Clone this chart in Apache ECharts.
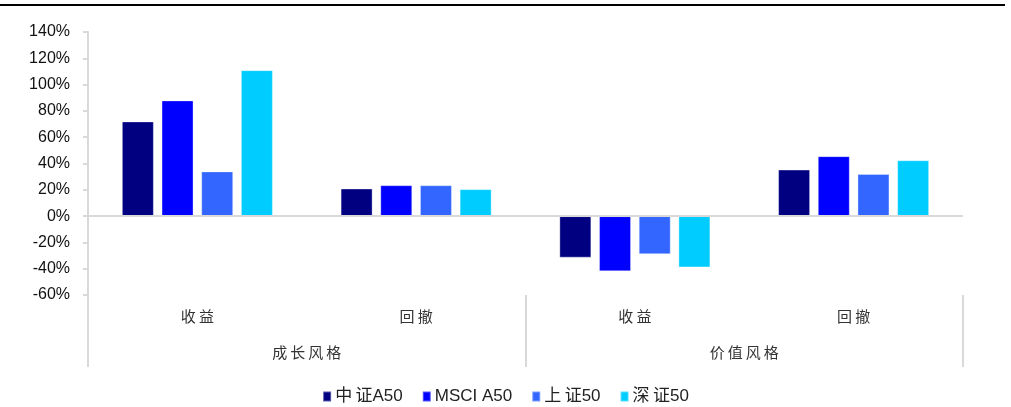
<!DOCTYPE html>
<html>
<head>
<meta charset="utf-8">
<script src="https://cdn.jsdelivr.net/npm/echarts@6/dist/echarts.min.js"></script>
<style>
  html, body { margin: 0; padding: 0; background: #fff; }
  #chart { width: 1011px; height: 407px; }
</style>
</head>
<body>
<div id="chart"></div>
<script>
// Sub-categories (inner level) and style groups (outer level)
const categories = ['收益', '回撤', '收益', '回撤'];
const groups = ['成长风格', '价值风格'];

// Index series, values in %
const seriesNames = ['中证A50', 'MSCI A50', '上证50', '深证50'];
const csiA50   = [72, 21, -31.6, 35.4];
const msciA50  = [88, 23.5, -42, 45.6];
const sse50    = [34, 23.5, -29, 32.1];
const szse50   = [111, 20.5, -39, 42.5];

const yTicks = { min: -60, max: 140, step: 20 };

const colors = ['#000080', '#0000FF', '#3366FF', '#00CCFF'];
const values = [csiA50, msciA50, sse50, szse50];

const latin = '"Liberation Sans", Arial, "Noto Sans CJK SC", sans-serif';
const cjk = '"Noto Sans CJK SC", "Liberation Sans", sans-serif';

// widen the spacing between CJK characters
function spaceCjk(text) {
  return text.replace(/([\u4e00-\u9fff])(?=[\u4e00-\u9fff])/g, '$1\u2009');
}

const chart = echarts.init(document.getElementById('chart'));

const series = seriesNames.map((name, i) => {
  const s = {
    name: name,
    type: 'bar',
    xAxisIndex: 0,
    data: values[i],
    barWidth: 32,
    barGap: '24%',
    itemStyle: { color: colors[i], borderColor: 'rgba(255,255,255,0.35)', borderWidth: 1 }
  };
  if (i === 0) {
    // zero baseline across the plot
    s.markLine = {
      silent: true,
      symbol: ['none', 'none'],
      label: { show: false },
      lineStyle: { color: '#d9d9d9', type: 'solid', width: 2 },
      data: [{ yAxis: 0 }]
    };
  }
  return s;
});

chart.setOption({
  animation: false,
  backgroundColor: '#fff',
  graphic: [{
    type: 'line',
    shape: { x1: 0, y1: 5, x2: 1005, y2: 5 },
    style: { stroke: '#000', lineWidth: 2 }
  }],
  grid: { left: 88, right: 48, top: 32, bottom: 112 },
  legend: {
    data: seriesNames,
    left: 'center',
    top: 388,
    padding: 0,
    itemWidth: 8,
    itemHeight: 10,
    itemGap: 19,
    icon: 'rect',
    formatter: spaceCjk,
    textStyle: { fontFamily: latin, fontSize: 17, color: '#222', padding: [0, 0, 0, -1] }
  },
  xAxis: [
    {
      type: 'category',
      data: categories,
      position: 'bottom',
      axisLine: { show: false },
      axisTick: { show: false },
      axisLabel: { margin: 14, fontFamily: cjk, fontSize: 15, color: '#333', formatter: spaceCjk }
    },
    {
      type: 'category',
      data: groups,
      position: 'bottom',
      axisLine: { show: false },
      axisTick: {
        show: true,
        interval: 0,
        length: 72,
        inside: false,
        lineStyle: { color: '#d9d9d9', width: 2 }
      },
      axisLabel: { margin: 50, fontFamily: cjk, fontSize: 15, color: '#333', formatter: spaceCjk }
    }
  ],
  yAxis: {
    type: 'value',
    min: yTicks.min,
    max: yTicks.max,
    interval: yTicks.step,
    axisLine: { show: true, lineStyle: { color: '#d9d9d9', width: 2 } },
    axisTick: { show: true, length: 5, lineStyle: { color: '#d9d9d9', width: 2 } },
    splitLine: { show: false },
    axisLabel: {
      formatter: '{value}%',
      margin: 18,
      fontFamily: latin,
      fontSize: 16,
      color: '#111'
    }
  },
  series: series
});
</script>
</body>
</html>
